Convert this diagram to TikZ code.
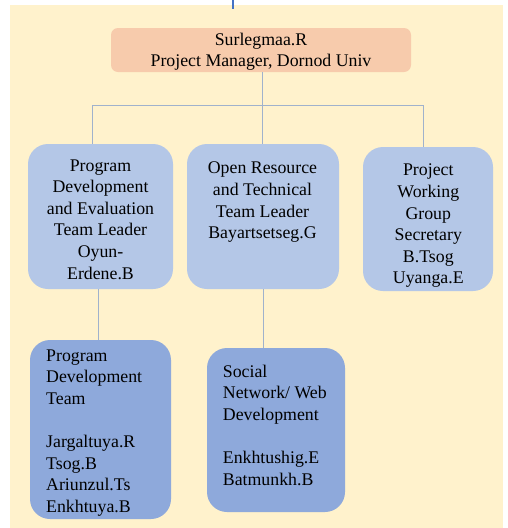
\documentclass[tikz,border=0pt]{standalone}
\usepackage{fontspec}
\setmainfont{Liberation Serif}
\usetikzlibrary{calc}
\definecolor{cream}{RGB}{255,242,204}
\definecolor{peach}{RGB}{247,203,172}
\definecolor{lightblue}{RGB}{180,199,231}
\definecolor{midblue}{RGB}{142,169,219}
\definecolor{conn}{RGB}{160,178,204}
\definecolor{topblue}{RGB}{68,114,196}
\begin{document}
\begin{tikzpicture}[x=1pt,y=-1pt,
  boxbase/.style={draw=none, inner sep=0pt, rectangle},
  peachbox/.style={boxbase, fill=peach, rounded corners=7pt},
  lbbox/.style={boxbase, fill=lightblue, rounded corners=20pt},
  mbbox/.style={boxbase, fill=midblue, rounded corners=20pt},
  txt/.style={inner sep=0pt, text=black, font=\fontsize{17.8}{21.6}\selectfont},
  conline/.style={draw=conn, line width=1pt}]
\useasboundingbox (0,0) rectangle (507,528);
\fill[cream] (10,4.5) rectangle (503,528);
\coordinate (ctop) at (233,0);
\coordinate (cbot) at (233,9);
\draw[topblue, line width=2.5pt] (ctop) -- (cbot);

% boxes
\node[peachbox, minimum width=300pt, minimum height=44pt] (top) at (261,50) {};
\node[lbbox, minimum width=145pt, minimum height=145pt] (a) at (100.5,216.5) {};
\node[lbbox, minimum width=152pt, minimum height=145pt] (b) at (263,216.5) {};
\node[lbbox, minimum width=130pt, minimum height=144pt] (c) at (428,219) {};
\node[mbbox, minimum width=141pt, minimum height=179pt] (d) at (100.5,429.5) {};
\node[mbbox, minimum width=138pt, minimum height=164pt] (e) at (276,430) {};

% texts
\node[txt, align=center, anchor=north] (ttop) at (261,32.5) {Surlegmaa.R\\Project Manager, Dornod Univ};
\node[txt, align=center, anchor=north] (ta) at (100.5,159.3) {Program\\Development\\and Evaluation\\Team Leader\\Oyun-\\Erdene.B};
\node[txt, align=center, anchor=north] (tb) at (262.5,162) {Open Resource\\and Technical\\Team Leader\\Bayartsetseg.G};
\node[txt, align=center, anchor=north] (tc) at (428.3,164) {Project\\Working\\Group\\Secretary\\B.Tsog\\Uyanga.E};
\node[txt, align=left, anchor=north west] (td) at (46,349.3) {Program\\Development\\Team\\[21.6pt]Jargaltuya.R\\Tsog.B\\Ariunzul.Ts\\Enkhtuya.B};
\node[txt, align=left, anchor=north west] (te) at (222.7,364.5) {Social\\Network/ Web\\Development\\[21.6pt]Enkhtushig.E\\Batmunkh.B};

% connectors
\coordinate (bus) at (262,105);
\coordinate (busl) at (92,105);
\coordinate (busr) at (423,105);
\draw[conline] (top.south -| bus) -- (bus);
\draw[conline] (busl) -- (busr);
\draw[conline] (busl) -- (a.north -| busl);
\draw[conline] (bus) -- (b.north -| bus);
\draw[conline] (busr) -- (c.north -| busr);
\coordinate (adx) at (98,0);
\coordinate (bex) at (263,0);
\draw[conline] (a.south -| adx) -- (d.north -| adx);
\draw[conline] (b.south -| bex) -- (e.north -| bex);
\end{tikzpicture}
\end{document}
